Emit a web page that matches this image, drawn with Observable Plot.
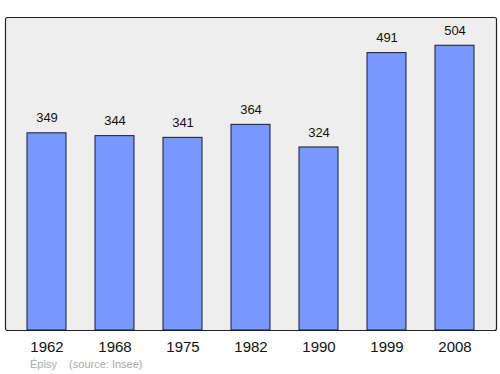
<!DOCTYPE html>
<html><head><meta charset="utf-8">
<script src="https://cdn.jsdelivr.net/npm/d3@7"></script>
<script src="https://cdn.jsdelivr.net/npm/@observablehq/plot@0.6"></script>
<style>
body{margin:0;background:#fff;font-family:"Liberation Sans",Arial,sans-serif;}
#cap{position:absolute;left:30px;top:358px;font-size:11px;color:#aaa;white-space:pre;}
</style></head>
<body><div id="chart"></div><div id="cap">Épisy    (source: Insee)</div>
<script>
const years = ["1962","1968","1975","1982","1990","1999","2008"];
const population = [349, 344, 341, 364, 324, 491, 504];
const data = years.map((y,i)=>({year:y, pop:population[i]}));
const chart = Plot.plot({
  width: 500, height: 356,
  marginLeft: 5, marginRight: 4, marginTop: 17, marginBottom: 26,
  style: {fontFamily: '"Liberation Sans", Arial, sans-serif', background: "#fff"},
  x: {domain: years, paddingInner: 0.43, paddingOuter: 0.31, label: null},
  y: {domain: [0, 554], axis: null},
  marks: [
    Plot.frame({fill: "#eeeeee", stroke: "#222", strokeWidth: 1.2, rx: 2}),
    Plot.barY(data, {x: "year", y: "pop", fill: "#7799ff", stroke: "#1a1a2a", strokeWidth: 1}),
    Plot.text(data, {x: "year", y: "pop", text: d => String(d.pop), dy: -15, fontSize: 13, fill: "#111"}),
    Plot.axisX({tickSize: 0, tickPadding: 11, fontSize: 15, label: null, color: "#111"})
  ]
});
document.getElementById("chart").append(chart);
</script></body></html>
